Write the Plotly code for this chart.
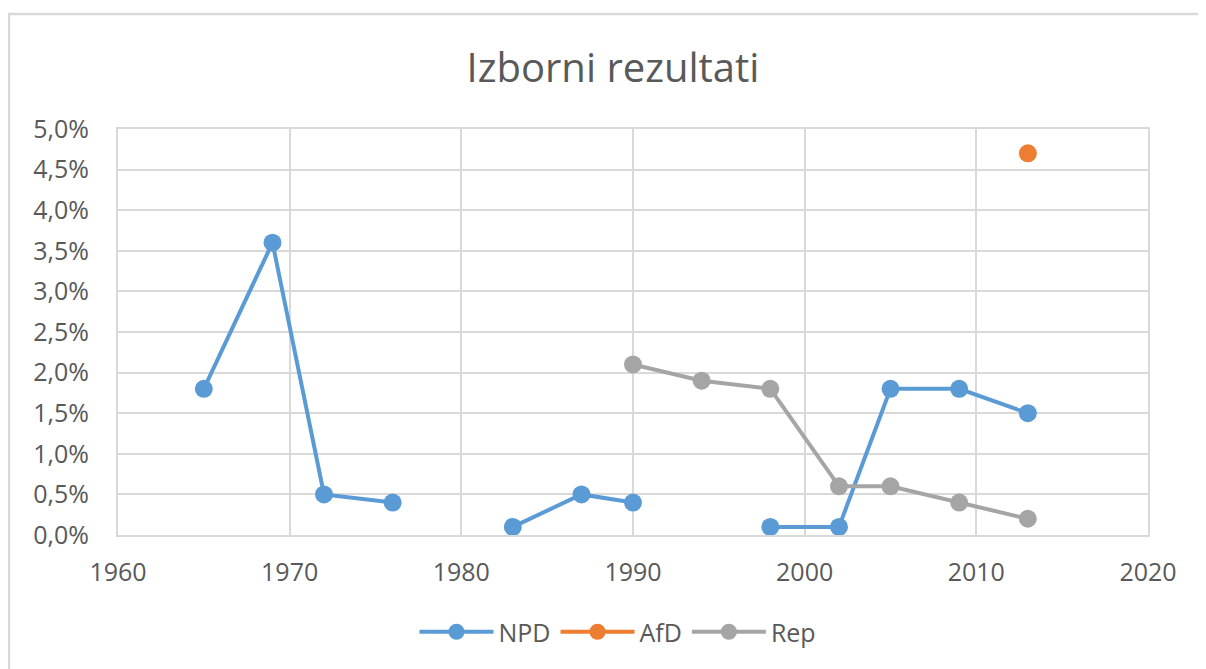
import plotly.graph_objects as pg

# izborni rezultati (udio glasova)
godine_npd = [1965, 1969, 1972, 1976, 1980, 1983, 1987, 1990, 1994, 1998, 2002, 2005, 2009, 2013]
npd = [0.018, 0.036, 0.005, 0.004, None, 0.001, 0.005, 0.004, None, 0.001, 0.001, 0.018, 0.018, 0.015]
godine_afd = [2013]
afd = [0.047]
godine_rep = [1990, 1994, 1998, 2002, 2005, 2009, 2013]
rep = [0.021, 0.019, 0.018, 0.006, 0.006, 0.004, 0.002]

boje = {"NPD": "#5b9bd5", "AfD": "#ed7d31", "Rep": "#a5a5a5"}

fig = pg.Figure()
fig.add_trace(pg.Scatter(x=godine_npd, y=npd, name="NPD", mode="lines+markers",
                         line=dict(color=boje["NPD"], width=4),
                         marker=dict(size=18, color=boje["NPD"]), connectgaps=False))
fig.add_trace(pg.Scatter(x=godine_afd, y=afd, name="AfD", mode="lines+markers",
                         line=dict(color=boje["AfD"], width=4),
                         marker=dict(size=18, color=boje["AfD"])))
fig.add_trace(pg.Scatter(x=godine_rep, y=rep, name="Rep", mode="lines+markers",
                         line=dict(color=boje["Rep"], width=4),
                         marker=dict(size=18, color=boje["Rep"])))

# stranica ima 8px margine, pa se sve pomiče za 8px
pom = 8
l, t = 118 - pom, 129 - pom
w, h = 1030, 406
r, b = 1206 - l - w, 669 - t - h

# okvir grafikona (vidljiv samo gore i lijevo)
fig.add_shape(type="rect", xref="paper", yref="paper",
              x0=(9 - pom - l) / w, x1=(1230 - l) / w,
              y0=-(700 - 535) / h, y1=1 + (t - (14 - pom)) / h,
              line=dict(color="#d9d9d9", width=2.5), layer="below")

fig.update_layout(
    width=1206, height=669, autosize=False,
    margin=dict(l=l, r=r, t=t, b=b, autoexpand=False),
    paper_bgcolor="white", plot_bgcolor="white",
    separators=",.",
    font=dict(family="Open Sans, DejaVu Sans, sans-serif", color="#595959", size=25),
    title=dict(text="Izborni rezultati", x=(613 - pom) / 1206, xref="container", xanchor="center",
               y=1 - (68 - pom) / 669, yref="container", yanchor="middle",
               font=dict(size=40, color="#595959")),
    showlegend=True,
    legend=dict(orientation="h", x=(618 - 118) / w, xanchor="center",
                y=-(632 - 535) / h, yanchor="middle", itemwidth=74,
                font=dict(size=25, color="#595959")),
    xaxis=dict(range=[1960, 2020], dtick=10, tick0=1960, showgrid=True, gridcolor="#d9d9d9",
               gridwidth=2, showline=True, linecolor="#d9d9d9", linewidth=2, mirror=True,
               zeroline=False, ticks="", automargin=False, ticklabelstandoff=14),
    yaxis=dict(range=[0, 0.05], dtick=0.005, tickformat=".1%", showgrid=True,
               gridcolor="#d9d9d9", gridwidth=2, showline=True, linecolor="#d9d9d9",
               linewidth=2, mirror=True, zeroline=False, ticks="", automargin=False,
               ticklabelstandoff=22),
)

fig.write_html("out.html")
